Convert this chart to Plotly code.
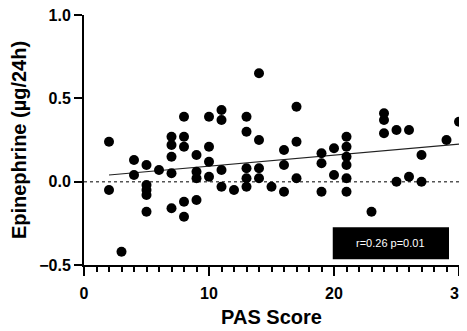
import plotly.graph_objects as go

# PAS score (x) and Epinephrine (y) values
pas_score = [2, 2, 3, 4, 4, 5, 5, 5, 5, 5, 6,
             7, 7, 7, 7, 7, 8, 8, 8, 8, 8, 9, 9, 9, 9,
             10, 10, 10, 10, 11, 11, 11, 11, 12,
             13, 13, 13, 13, 13, 14, 14, 14, 14, 15,
             16, 16, 16, 17, 17, 17, 19, 19, 19, 20, 20,
             21, 21, 21, 21, 21, 21, 23, 24, 24, 24,
             25, 25, 26, 26, 27, 27, 29, 30]
epinephrine = [0.24, -0.05, -0.42, 0.13, 0.04, 0.10, -0.02, -0.05, -0.08, -0.18, 0.07,
               0.27, 0.22, 0.15, 0.05, -0.16, 0.39, 0.27, 0.21, -0.12, -0.21, 0.16, 0.06, 0.02, -0.11,
               0.39, 0.21, 0.12, 0.03, 0.43, 0.37, 0.07, -0.03, -0.05,
               0.39, 0.30, 0.08, 0.02, -0.03, 0.65, 0.25, 0.08, 0.02, -0.03,
               0.19, 0.10, -0.06, 0.45, 0.24, 0.02, 0.17, 0.11, -0.06, 0.20, 0.04,
               0.27, 0.21, 0.15, 0.10, 0.02, -0.06, -0.18, 0.41, 0.37, 0.29,
               0.31, 0.0, 0.31, 0.03, 0.16, 0.0, 0.25, 0.36]

# regression line endpoints
trend_x = [2, 30]
trend_y = [0.04, 0.225]

# zero reference line
zero_x = [0, 30]
zero_y = [0, 0]

stats_text = "r=0.26 p=0.01"
box_x = [19.9, 29.2]
box_y = [-0.466, -0.274]

x_title = "PAS Score"
y_title = "Epinephrine (µg/24h)"
x_ticks = [0, 10, 20, 30]
y_ticks = [-0.5, 0.0, 0.5, 1.0]

FONT = "Liberation Sans, Arial, sans-serif"

fig = go.Figure()
fig.add_trace(go.Scatter(x=zero_x, y=zero_y, mode="lines",
                         line=dict(color="#555555", width=1.5, dash="dot"),
                         hoverinfo="skip", showlegend=False))
fig.add_trace(go.Scatter(x=trend_x, y=trend_y, mode="lines",
                         line=dict(color="#222222", width=1.2),
                         showlegend=False))
fig.add_trace(go.Scatter(x=pas_score, y=epinephrine, mode="markers",
                         marker=dict(color="black", size=10),
                         showlegend=False))

fig.add_shape(type="rect", xref="x", yref="y",
              x0=box_x[0], x1=box_x[1], y0=box_y[0], y1=box_y[1],
              fillcolor="black", line=dict(color="black", width=0))
fig.add_annotation(x=(box_x[0] + box_x[1]) / 2, y=(box_y[0] + box_y[1]) / 2,
                   xref="x", yref="y", text=stats_text, showarrow=False,
                   font=dict(family=FONT, size=11, color="white"))

# the page body adds an 8px offset at left/top, so the figure is 8px smaller
fig.update_layout(
    width=459, height=323,
    margin=dict(l=76, r=8, t=7, b=66),
    plot_bgcolor="white", paper_bgcolor="white",
    font=dict(family=FONT, color="black"),
)
fig.update_xaxes(
    range=[0, 30], tickvals=x_ticks, showgrid=False, zeroline=False, automargin=False,
    showline=True, linecolor="black", linewidth=2,
    ticks="outside", ticklen=9, tickwidth=2, tickcolor="black",
    ticklabeloverflow="allow", ticklabelstandoff=4,
    minor=dict(dtick=1, ticks="outside", ticklen=5, tickwidth=1.5, tickcolor="black", showgrid=False),
    tickfont=dict(family=FONT, size=16, weight="bold"),
    title=dict(text=x_title, font=dict(family=FONT, size=20, weight="bold"), standoff=9),
)
fig.update_yaxes(
    range=[-0.5, 1.0], tickvals=y_ticks, tickformat=".1f", showgrid=False, zeroline=False,
    automargin=False, ticklabeloverflow="allow",
    showline=True, linecolor="black", linewidth=2,
    ticks="outside", ticklen=8, tickwidth=2, tickcolor="black",
    tickfont=dict(family=FONT, size=16, weight="bold"),
    title=dict(text=y_title, font=dict(family=FONT, size=20, weight="bold"), standoff=8),
)

fig.write_html("out.html")
